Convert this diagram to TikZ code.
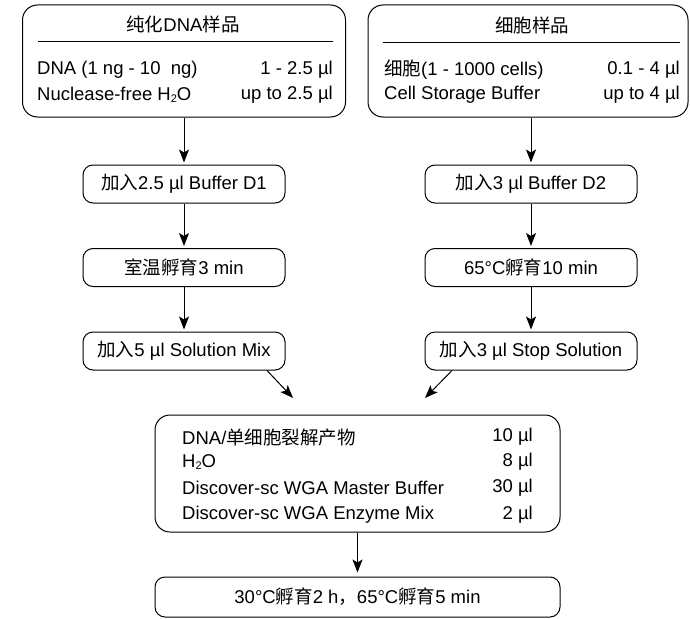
\documentclass[tikz,border=0pt]{standalone}
\usepackage{fontspec}
\setmainfont{Liberation Sans}
\newfontfamily\cjk{Noto Sans CJK SC}
\usetikzlibrary{arrows.meta}
\newcommand\zh[1]{{\cjk #1}}
\newcommand\subtwo{\raisebox{-0.25ex}{\fontsize{11}{11}\selectfont 2}}
\begin{document}
\begin{tikzpicture}[x=1pt,y=-1pt,
  box/.style={draw, line width=1pt, rounded corners=15pt, inner sep=0pt},
  sbox/.style={draw, line width=1pt, rounded corners=10pt, inner sep=0pt, minimum height=38pt, font=\fontsize{18.5}{20}\selectfont},
  txt/.style={font=\fontsize{18.5}{20}\selectfont, inner sep=0pt},
  arr/.style={-{Stealth[length=13pt,width=10pt,inset=3pt]}, line width=1pt}]
\useasboundingbox (0,0) rectangle (690,618);

% top boxes
\node[box, minimum width=323pt, minimum height=112pt] (top1) at (184,61) {};
\node[box, minimum width=320pt, minimum height=112pt] (top2) at (528,61) {};
\draw[line width=1pt] (38,42) -- (333,42);
\draw[line width=1pt] (383,43) -- (680,43);
\node[txt] (t1) at (183,24) {\zh{纯化}DNA\zh{样品}};
\node[txt] (t2) at (532,25) {\zh{细胞样品}};
\node[txt, anchor=west] (a1) at (37,70) {DNA (1 ng - 10~ ng)};
\node[txt, anchor=east] (a2) at (333,70) {1 - 2.5 µl};
\node[txt, anchor=west] (a3) at (37,95) {Nuclease-free H\subtwo O};
\node[txt, anchor=east] (a4) at (333,95) {up to 2.5 µl};
\node[txt, anchor=west] (b1) at (384,70) {\zh{细胞}(1 - 1000 cells)};
\node[txt, anchor=east] (b2) at (680,70) {0.1 - 4 µl};
\node[txt, anchor=west] (b3) at (384,95) {Cell Storage Buffer};
\node[txt, anchor=east] (b4) at (680,95) {up to 4 µl};

% left column
\node[sbox, minimum width=202pt] (l1) at (184,184) {\zh{加入}2.5 µl Buffer D1};
\node[sbox, minimum width=202pt] (l2) at (184,267.5) {\zh{室温孵育}3 min};
\node[sbox, minimum width=202pt] (l3) at (184,351) {\zh{加入}5 µl Solution Mix};
% right column
\node[sbox, minimum width=212pt] (r1) at (531,184) {\zh{加入}3 µl Buffer D2};
\node[sbox, minimum width=212pt] (r2) at (531,267.5) {65°C\zh{孵育}10 min};
\node[sbox, minimum width=212pt] (r3) at (531,351) {\zh{加入}3 µl Stop Solution};

% big box
\node[box, minimum width=405pt, minimum height=117pt] (big) at (357.5,473.5) {};
\node[txt, anchor=west] (c1) at (182,437) {DNA/\zh{单细胞裂解产物}};
\node[txt, anchor=east] (c2) at (533,437) {10 µl};
\node[txt, anchor=west] (c3) at (182,462) {H\subtwo O};
\node[txt, anchor=east] (c4) at (533,462) {8 µl};
\node[txt, anchor=west] (c5) at (182,488) {Discover-sc WGA Master Buffer};
\node[txt, anchor=east] (c6) at (533,488) {30 µl};
\node[txt, anchor=west] (c7) at (182,515) {Discover-sc WGA Enzyme Mix};
\node[txt, anchor=east] (c8) at (533,515) {2 µl};

\node[sbox, minimum width=405pt, minimum height=40pt] (fin) at (357.5,597) {30°C\zh{孵育}2 h\zh{，}65°C\zh{孵育}5 min};

% arrows
\draw[arr] (l1.north |- top1.south) -- ([yshift=2pt]l1.north);
\draw[arr] (l1) -- ([yshift=2pt]l2.north);
\draw[arr] (l2) -- ([yshift=2pt]l3.north);
\draw[arr] (r1.north |- top2.south) -- ([yshift=2pt]r1.north);
\draw[arr] (r1) -- ([yshift=2pt]r2.north);
\draw[arr] (r2) -- ([yshift=2pt]r3.north);
\coordinate (j1) at (293,398);
\coordinate (j2) at (425,398);
\draw[arr] ([xshift=83pt]l3.south) -- (j1);
\draw[arr] ([xshift=-79pt]r3.south) -- (j2);
\draw[arr] (big.south) -- ([yshift=4pt]fin.north);
\end{tikzpicture}
\end{document}
